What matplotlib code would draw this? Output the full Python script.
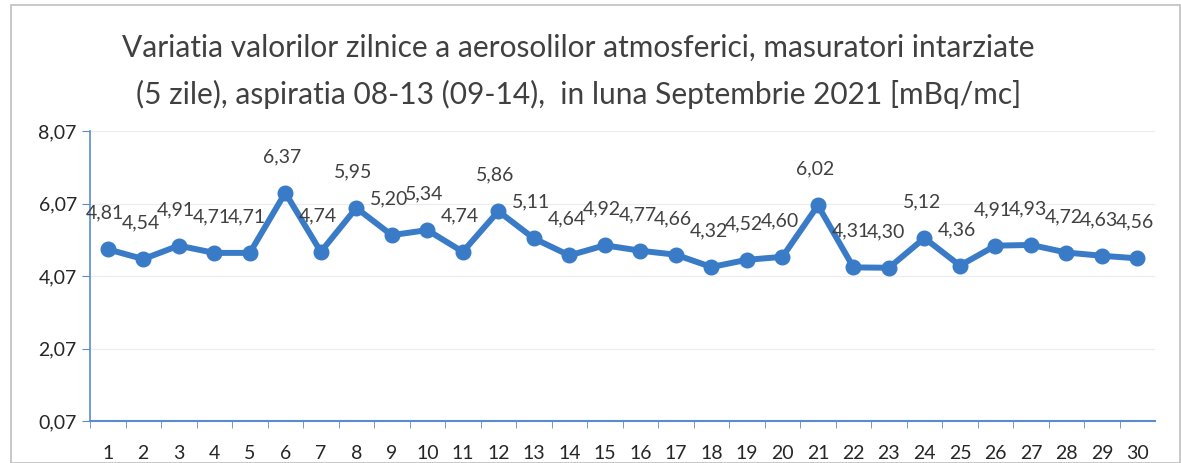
import matplotlib.pyplot as plt
from matplotlib.ticker import FuncFormatter
from matplotlib.patches import Rectangle

plt.rcParams["font.family"] = ["Lato", "DejaVu Sans"]

zile = list(range(1, 31))
valori = [4.81, 4.54, 4.91, 4.71, 4.71, 6.37, 4.74, 5.95, 5.20, 5.34,
          4.74, 5.86, 5.11, 4.64, 4.92, 4.77, 4.66, 4.32, 4.52, 4.60,
          6.02, 4.31, 4.30, 5.12, 4.36, 4.91, 4.93, 4.72, 4.63, 4.56]
y_ticks = [0.07, 2.07, 4.07, 6.07, 8.07]

titlu = ("Variatia valorilor zilnice a aerosolilor atmosferici, masuratori intarziate\n"
         "(5 zile), aspiratia 08-13 (09-14),  in luna Septembrie 2021 [mBq/mc]")

albastru = "#3A7BC8"
ax_col = "#5B8BD0"

fig = plt.figure(figsize=(11.81, 4.63), dpi=100)
ax = fig.add_axes([0.0762, 0.0907, 0.902, 0.626])

# chenar grafic
fig.patches.append(Rectangle((0.009, 0.0), 0.99, 0.99, transform=fig.transFigure,
                             fill=False, edgecolor="#bfbfbf", lw=1.2))

ax.plot(zile, valori, color=albastru, lw=4.3, marker="o", markersize=10.5,
        markerfacecolor=albastru, markeredgecolor=albastru, zorder=3)

for x, v in zip(zile, valori):
    ax.annotate(f"{v:.2f}".replace(".", ","), (x, v), xytext=(-2, 26),
                textcoords="offset points", ha="center", va="center",
                fontsize=14, color="#404040")

ax.set_xlim(0.5, 30.5)
ax.set_ylim(0.07, 8.07)
ax.set_yticks(y_ticks)
ax.yaxis.set_major_formatter(FuncFormatter(lambda v, p: f"{v:.2f}".replace(".", ",")))
ax.set_xticks(zile)
ax.set_xticks([z + 0.5 for z in range(0, 30)], minor=True)
ax.tick_params(axis="x", which="major", length=0, labelsize=14, pad=17, colors="#262626")
ax.tick_params(axis="x", which="minor", length=5, color=ax_col, direction="out")
ax.tick_params(axis="y", length=6, color=ax_col, labelsize=14, colors="#262626")

ax.grid(axis="y", color="#ececec", lw=0.8)
ax.set_axisbelow(True)
for s in ["top", "right"]:
    ax.spines[s].set_visible(False)
ax.spines["left"].set_color(ax_col)
ax.spines["bottom"].set_color(ax_col)
ax.spines["left"].set_linewidth(1.2)
ax.spines["bottom"].set_linewidth(1.5)

fig.text(0.49, 0.845, titlu, ha="center", va="center", fontsize=21.5,
         color="#404040", linespacing=1.75)

fig.savefig("out.png", dpi=100)
